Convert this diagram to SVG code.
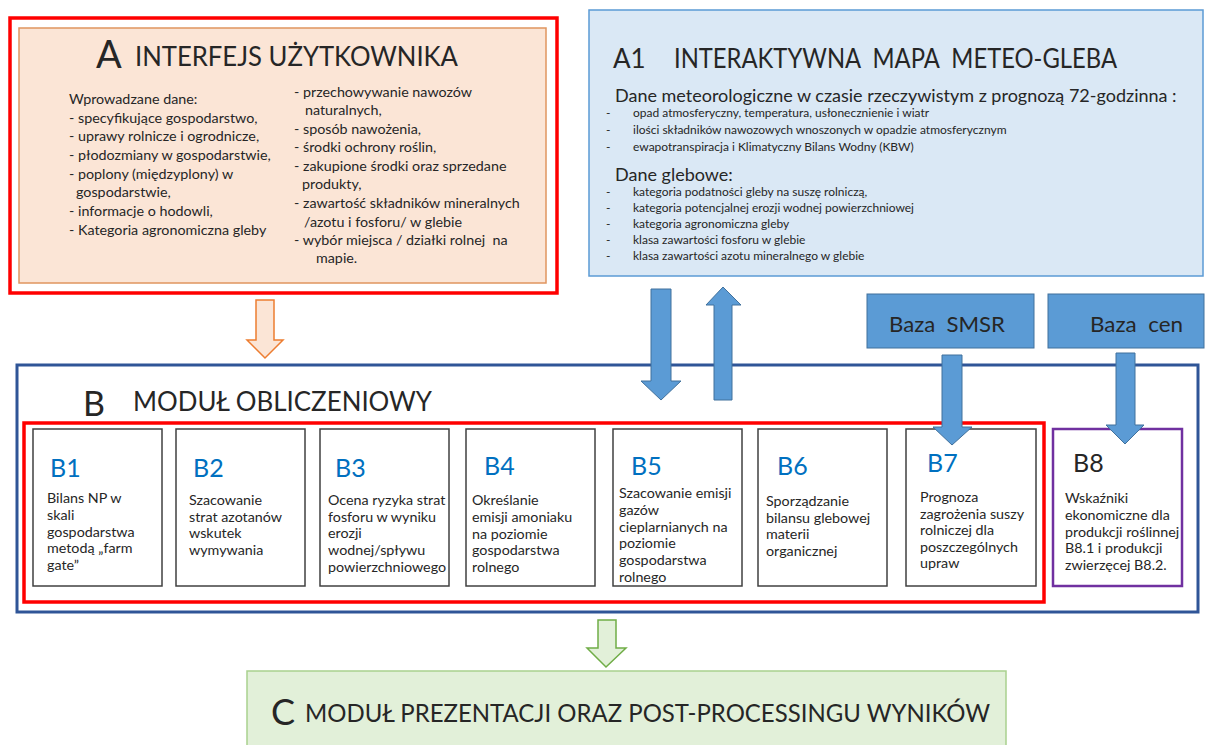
<svg xmlns="http://www.w3.org/2000/svg" width="1206" height="745" viewBox="0 0 1206 745" xml:space="preserve">
<style>
text { font-family: Lato, "Liberation Sans", "DejaVu Sans", sans-serif; fill: #262626; white-space: pre; }
.body { font-size: 14.3px; }
.a1b { font-size: 12px; }
.a1h { font-size: 18px; }
.lbl { font-size: 25px; fill: #0070c0; }
.bbox { fill: #ffffff; stroke: #404040; stroke-width: 1.5; }
.barrow { fill: #5b9bd5; stroke: #41719c; stroke-width: 1; }
</style>
<rect width="1206" height="745" fill="#ffffff"/>

<g id="nodeA">
  <rect x="10" y="18" width="547" height="275" fill="#ffffff" stroke="#ff0000" stroke-width="3.5"/>
  <rect x="19" y="28" width="527" height="255" fill="#fbe5d6" stroke="#e0955f" stroke-width="1.5"/>
  <text x="96" y="68" font-size="38">A</text>
  <text x="135" y="66" font-size="27" textLength="323" lengthAdjust="spacingAndGlyphs">INTERFEJS UŻYTKOWNIKA</text>
  <text class="body" x="69" y="104">Wprowadzane dane:</text>
  <text class="body" x="69" y="123">- specyfikujące gospodarstwo,</text>
  <text class="body" x="69" y="141">- uprawy rolnicze i ogrodnicze,</text>
  <text class="body" x="69" y="160">- płodozmiany w gospodarstwie,</text>
  <text class="body" x="69" y="179">- poplony (międzyplony) w</text>
  <text class="body" x="76" y="197">gospodarstwie,</text>
  <text class="body" x="69" y="216">- informacje o hodowli,</text>
  <text class="body" x="69" y="235">- Kategoria agronomiczna gleby</text>
  <text class="body" x="294" y="97">- przechowywanie nawozów</text>
  <text class="body" x="305" y="115">naturalnych,</text>
  <text class="body" x="294" y="134">- sposób nawożenia,</text>
  <text class="body" x="294" y="152">- środki ochrony roślin,</text>
  <text class="body" x="294" y="171">- zakupione środki oraz sprzedane</text>
  <text class="body" x="302" y="189">produkty,</text>
  <text class="body" x="294" y="208">- zawartość składników mineralnych</text>
  <text class="body" x="304" y="227">/azotu i fosforu/ w glebie</text>
  <text class="body" x="294" y="245">- wybór miejsca / działki rolnej  na</text>
  <text class="body" x="316" y="263">mapie.</text>
</g>

<g id="nodeA1">
  <rect x="589" y="10" width="614" height="266" fill="#dae8f5" stroke="#5b9bd5" stroke-width="1.5"/>
  <text x="613" y="68" font-size="26">A1</text>
  <text x="674" y="68" font-size="26" textLength="443" lengthAdjust="spacingAndGlyphs">INTERAKTYWNA  MAPA  METEO-GLEBA</text>
  <text class="a1h" x="615" y="102">Dane meteorologiczne w czasie rzeczywistym z prognozą 72-godzinna :</text>
  <text class="a1b" x="606" y="117">-</text><text class="a1b" x="633" y="117">opad atmosferyczny, temperatura, usłonecznienie i wiatr</text>
  <text class="a1b" x="606" y="134">-</text><text class="a1b" x="633" y="134">ilości składników nawozowych wnoszonych w opadzie atmosferycznym</text>
  <text class="a1b" x="606" y="151">-</text><text class="a1b" x="633" y="151">ewapotranspiracja i Klimatyczny Bilans Wodny (KBW)</text>
  <text class="a1h" x="615" y="181">Dane glebowe:</text>
  <text class="a1b" x="606" y="196">-</text><text class="a1b" x="633" y="196">kategoria podatności gleby na suszę rolniczą,</text>
  <text class="a1b" x="606" y="212">-</text><text class="a1b" x="633" y="212">kategoria potencjalnej erozji wodnej powierzchniowej</text>
  <text class="a1b" x="606" y="228">-</text><text class="a1b" x="633" y="228">kategoria agronomiczna gleby</text>
  <text class="a1b" x="606" y="244">-</text><text class="a1b" x="633" y="244">klasa zawartości fosforu w glebie</text>
  <text class="a1b" x="606" y="260">-</text><text class="a1b" x="633" y="260">klasa zawartości azotu mineralnego w glebie</text>
</g>

<g id="nodeSMSR">
  <rect x="867" y="294" width="167" height="54" fill="#5b9bd5" stroke="#41719c" stroke-width="1"/>
  <text x="889" y="332" font-size="22" textLength="116" lengthAdjust="spacingAndGlyphs">Baza  SMSR</text>
</g>

<g id="nodeCen">
  <rect x="1048" y="294" width="156" height="54" fill="#5b9bd5" stroke="#41719c" stroke-width="1"/>
  <text x="1090" y="332" font-size="22" textLength="93" lengthAdjust="spacingAndGlyphs">Baza  cen</text>
</g>

<g id="nodeB">
  <rect x="17" y="365" width="1181" height="247" fill="#ffffff" stroke="#2f5597" stroke-width="3"/>
  <text x="83" y="416" font-size="34">B</text>
  <text x="133" y="411" font-size="27" textLength="299" lengthAdjust="spacingAndGlyphs">MODUŁ OBLICZENIOWY</text>
  <rect x="24" y="423" width="1020" height="179" fill="none" stroke="#ff0000" stroke-width="3.5"/>
</g>

<g id="nodeB1">
  <rect class="bbox" x="33" y="429" width="129" height="157"/>
  <text class="lbl" x="50" y="477">B1</text>
  <text class="body" x="47" y="503">Bilans NP w</text>
  <text class="body" x="47" y="520">skali</text>
  <text class="body" x="47" y="537">gospodarstwa</text>
  <text class="body" x="47" y="553">metodą „farm</text>
  <text class="body" x="47" y="570">gate”</text>
</g>
<g id="nodeB2">
  <rect class="bbox" x="176" y="429" width="129" height="157"/>
  <text class="lbl" x="193" y="477">B2</text>
  <text class="body" x="189" y="505">Szacowanie</text>
  <text class="body" x="189" y="522">strat azotanów</text>
  <text class="body" x="189" y="538">wskutek</text>
  <text class="body" x="189" y="555">wymywania</text>
</g>
<g id="nodeB3">
  <rect class="bbox" x="320" y="429" width="129" height="157"/>
  <text class="lbl" x="335" y="477">B3</text>
  <text class="body" x="328" y="505">Ocena ryzyka strat</text>
  <text class="body" x="328" y="522">fosforu w wyniku</text>
  <text class="body" x="328" y="538">erozji</text>
  <text class="body" x="328" y="555">wodnej/spływu</text>
  <text class="body" x="328" y="572">powierzchniowego</text>
</g>
<g id="nodeB4">
  <rect class="bbox" x="466" y="429" width="129" height="157"/>
  <text class="lbl" x="484" y="475">B4</text>
  <text class="body" x="472" y="505">Określanie</text>
  <text class="body" x="472" y="522">emisji amoniaku</text>
  <text class="body" x="472" y="539">na poziomie</text>
  <text class="body" x="472" y="555">gospodarstwa</text>
  <text class="body" x="472" y="572">rolnego</text>
</g>
<g id="nodeB5">
  <rect class="bbox" x="613" y="429" width="129" height="157"/>
  <text class="lbl" x="631" y="475">B5</text>
  <text class="body" x="619" y="498">Szacowanie emisji</text>
  <text class="body" x="619" y="515">gazów</text>
  <text class="body" x="619" y="532">cieplarnianych na</text>
  <text class="body" x="619" y="548">poziomie</text>
  <text class="body" x="619" y="565">gospodarstwa</text>
  <text class="body" x="619" y="582">rolnego</text>
</g>
<g id="nodeB6">
  <rect class="bbox" x="758" y="429" width="129" height="157"/>
  <text class="lbl" x="777" y="475">B6</text>
  <text class="body" x="766" y="506">Sporządzanie</text>
  <text class="body" x="766" y="523">bilansu glebowej</text>
  <text class="body" x="766" y="539">materii</text>
  <text class="body" x="766" y="556">organicznej</text>
</g>
<g id="nodeB7">
  <rect class="bbox" x="906" y="429" width="130" height="157"/>
  <text class="lbl" x="927" y="472">B7</text>
  <text class="body" x="920" y="502">Prognoza</text>
  <text class="body" x="920" y="519">zagrożenia suszy</text>
  <text class="body" x="920" y="535">rolniczej dla</text>
  <text class="body" x="920" y="552">poszczególnych</text>
  <text class="body" x="920" y="568">upraw</text>
</g>
<g id="nodeB8">
  <rect x="1053" y="429" width="129" height="157" fill="#ffffff" stroke="#7030a0" stroke-width="2.5"/>
  <text x="1073" y="472" font-size="25">B8</text>
  <text class="body" x="1065" y="503">Wskaźniki</text>
  <text class="body" x="1065" y="520">ekonomiczne dla</text>
  <text class="body" x="1065" y="537">produkcji roślinnej</text>
  <text class="body" x="1065" y="553">B8.1 i produkcji</text>
  <text class="body" x="1065" y="570">zwierzęcej B8.2.</text>
</g>

<g id="nodeC">
  <rect x="247" y="671" width="759" height="80" fill="#e2f0d9" stroke="#a9d18e" stroke-width="1.5"/>
  <text x="271" y="725" font-size="36">C</text>
  <text x="305" y="722" font-size="25" textLength="685" lengthAdjust="spacingAndGlyphs">MODUŁ PREZENTACJI ORAZ POST-PROCESSINGU WYNIKÓW</text>
</g>

<g id="connectors">
  <polygon points="256,300 274,300 274,340 283,340 265,358 247,340 256,340" fill="#fbe5d6" stroke="#ed7d31" stroke-width="1.5"/>
  <polygon class="barrow" points="651,289 671,289 671,381 681,381 661,400 641,381 651,381"/>
  <polygon class="barrow" points="714,400 732,400 732,305 741,305 723,287 706,305 714,305"/>
  <polygon class="barrow" points="942,355 962,355 962,427 972,427 952,445 933,427 942,427"/>
  <polygon class="barrow" points="1116,353 1135,353 1135,425 1144,425 1125,444 1106,425 1116,425"/>
  <polygon points="598,620 616,620 616,648 626,648 606,667 587,648 598,648" fill="#e2f0d9" stroke="#70ad47" stroke-width="1.5"/>
</g>
</svg>
